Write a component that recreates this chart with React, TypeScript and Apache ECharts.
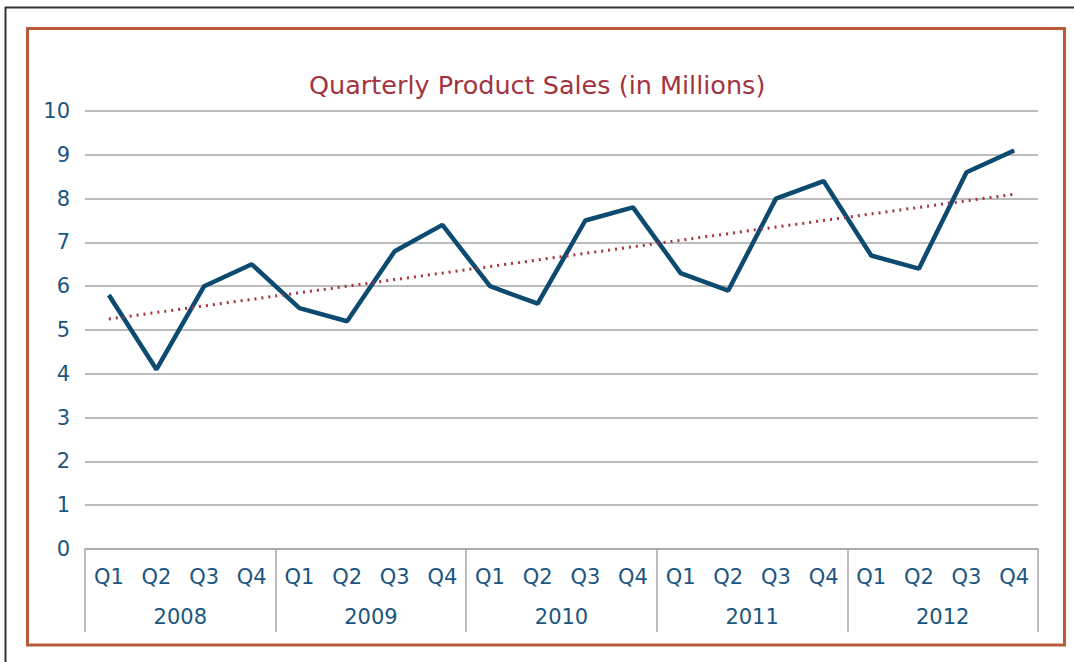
import React, { useEffect, useRef } from "react";
import * as echarts from "echarts";

const quarters = ["Q1", "Q2", "Q3", "Q4", "Q1", "Q2", "Q3", "Q4", "Q1", "Q2", "Q3", "Q4", "Q1", "Q2", "Q3", "Q4", "Q1", "Q2", "Q3", "Q4"];
const years = ["2008", "2009", "2010", "2011", "2012"];
const sales = [5.8, 4.1, 6.0, 6.5, 5.5, 5.2, 6.8, 7.4, 6.0, 5.6, 7.5, 7.8, 6.3, 5.9, 8.0, 8.4, 6.7, 6.4, 8.6, 9.1];
const trendStart = 5.25;
const trendEnd = 8.1;
const yTicks = [0, 10, 1];

const FONT = "DejaVu Sans";
const LABEL = "#1B5580";

export default function App() {
  const ref = useRef<HTMLDivElement>(null);
  useEffect(() => {
    if (!ref.current) return;
    const chart = echarts.init(ref.current, null, { renderer: "svg" });
    const trend = sales.map((_, i) => (i === 0 ? trendStart : i === sales.length - 1 ? trendEnd : "-"));
    chart.setOption({
      animation: false,
      backgroundColor: "#ffffff",
      title: {
        text: "Quarterly Product Sales (in Millions)",
        left: 304,
        top: 67,
        textStyle: { color: "#A3343F", fontFamily: FONT, fontSize: 25.5, fontWeight: "normal" },
      },
      graphic: [
        { type: "line", shape: { x1: 5, y1: 7.5, x2: 1074, y2: 7.5 }, style: { stroke: "#333", lineWidth: 2 } },
        { type: "line", shape: { x1: 5.5, y1: 7, x2: 5.5, y2: 662 }, style: { stroke: "#333", lineWidth: 2 } },
        { type: "rect", shape: { x: 27.5, y: 28.5, width: 1037, height: 616.5 }, style: { fill: "none", stroke: "#B85C38", lineWidth: 3 } },
      ],
      grid: { left: 85, right: 36, top: 111, bottom: 113, containLabel: false },
      xAxis: [
        {
          type: "category",
          data: quarters,
          position: "bottom",
          boundaryGap: true,
          axisLine: { show: true, lineStyle: { color: "#A6A6A6", width: 1.5 } },
          axisTick: { show: false },
          axisLabel: { color: LABEL, fontFamily: FONT, fontSize: 21, margin: 17, interval: 0 },
        },
        {
          type: "category",
          data: years,
          position: "bottom",
          boundaryGap: true,
          axisLine: { show: false },
          axisTick: { show: true, length: 83, lineStyle: { color: "#A6A6A6", width: 1.5 } },
          axisLabel: { color: LABEL, fontFamily: FONT, fontSize: 21, margin: 57, interval: 0 },
        },
      ],
      yAxis: {
        type: "value",
        min: yTicks[0],
        max: yTicks[1],
        interval: yTicks[2],
        axisLine: { show: false },
        axisTick: { show: false },
        axisLabel: { color: LABEL, fontFamily: FONT, fontSize: 21, margin: 15 },
        splitLine: { lineStyle: { color: "#A6A6A6", width: 1.5 } },
      },
      series: [
        {
          type: "line",
          data: sales,
          xAxisIndex: 0,
          symbol: "none",
          lineStyle: { color: "#0D4A70", width: 4.5 },
          z: 3,
        },
        {
          type: "line",
          data: trend,
          xAxisIndex: 0,
          connectNulls: true,
          symbol: "none",
          lineStyle: { color: "#A3343F", width: 3, type: [2, 5] },
          z: 4,
        },
      ],
    });
    return () => chart.dispose();
  }, []);
  return <div ref={ref} style={{ position: "fixed", left: 0, top: 0, width: 1074, height: 662 }} />;
}
